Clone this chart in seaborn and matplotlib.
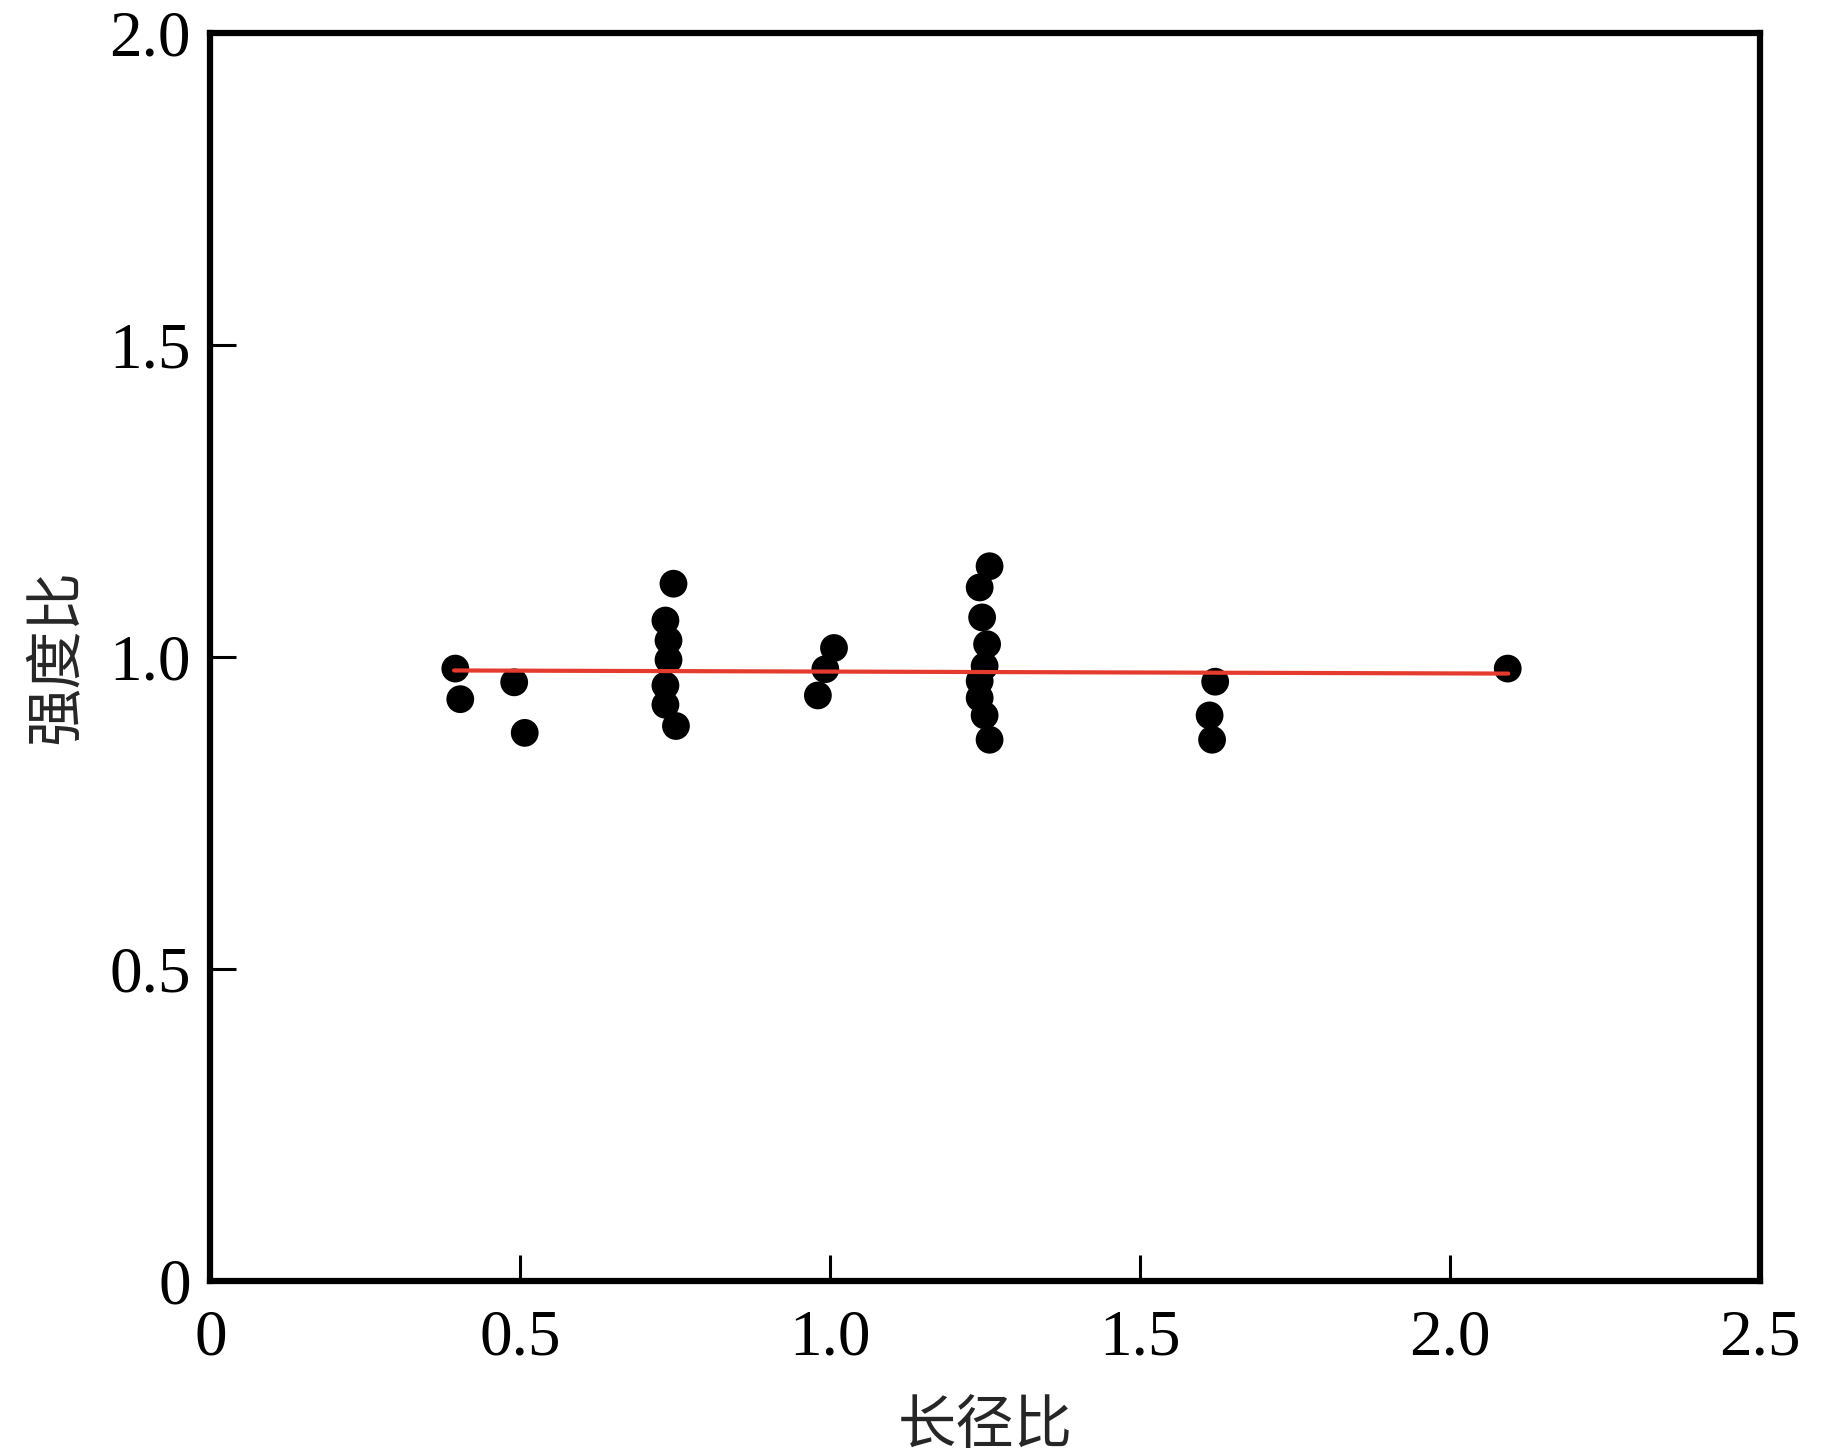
import numpy as np
import pandas as pd
import matplotlib
matplotlib.use('Agg')
import matplotlib.pyplot as plt
import seaborn as sns

# aspect ratio (长径比) vs strength ratio (强度比)
aspect_ratio = [0.395, 0.403, 0.490, 0.507,
                0.747, 0.734, 0.739, 0.739, 0.734, 0.734, 0.751,
                1.006, 0.992, 0.980,
                1.257, 1.241, 1.245, 1.253, 1.249, 1.241, 1.241, 1.249, 1.257,
                1.621, 1.612, 1.616,
                2.093]
strength_ratio = [0.981, 0.932, 0.959, 0.878,
                  1.117, 1.058, 1.026, 0.995, 0.954, 0.923, 0.889,
                  1.014, 0.980, 0.938,
                  1.145, 1.111, 1.063, 1.020, 0.985, 0.961, 0.934, 0.906, 0.867,
                  0.960, 0.906, 0.867,
                  0.981]

# fitted trend line
fit_x = [0.393, 2.094]
fit_y = [0.978, 0.973]

tick_vals_x = [0, 0.5, 1.0, 1.5, 2.0, 2.5]
tick_labels_x = ['0', '0.5', '1.0', '1.5', '2.0', '2.5']
tick_vals_y = [0, 0.5, 1.0, 1.5, 2.0]
tick_labels_y = ['0', '0.5', '1.0', '1.5', '2.0']

df = pd.DataFrame({'x': aspect_ratio, 'y': strength_ratio})
fit_df = pd.DataFrame({'x': fit_x, 'y': fit_y})

sns.set_style('white')
plt.rcParams['font.family'] = ['Liberation Serif', 'Noto Sans CJK SC']

fig = plt.figure(figsize=(18.24, 14.56), dpi=100)
ax = fig.add_axes([0.1154, 0.1203, 0.8495, 0.8573])

sns.scatterplot(data=df, x='x', y='y', ax=ax, color='black', s=400,
                edgecolor='none', zorder=2)
sns.lineplot(data=fit_df, x='x', y='y', ax=ax, color='#e53a2e', linewidth=3.0,
             zorder=3)

ax.set_xlim(0, 2.5)
ax.set_ylim(0, 2.0)
ax.set_xticks(tick_vals_x)
ax.set_xticklabels(tick_labels_x)
ax.set_yticks(tick_vals_y)
ax.set_yticklabels(tick_labels_y)

for sp in ax.spines.values():
    sp.set_linewidth(4.5)
    sp.set_color('black')

ax.tick_params(axis='both', direction='in', length=19, width=2.2,
               labelsize=47, colors='black', bottom=True, left=True,
               top=False, right=False)
ax.tick_params(axis='x', pad=20)
ax.tick_params(axis='y', pad=14)

ax.set_xlabel('长径比', fontsize=42, family=['Noto Sans CJK SC'], labelpad=20)
ax.set_ylabel('强度比', fontsize=42, family=['Noto Sans CJK SC'], labelpad=16)

fig.savefig('out.png', dpi=100)
plt.close(fig)
